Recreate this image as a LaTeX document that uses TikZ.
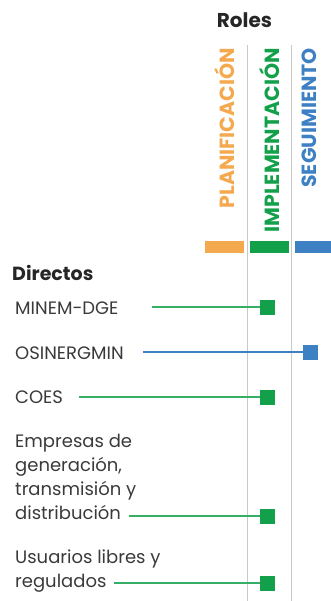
\documentclass[tikz,border=0pt]{standalone}
\usepackage{fontspec}
\setmainfont{Poppins}
\usetikzlibrary{positioning}

\definecolor{plan}{HTML}{F5A94F}
\definecolor{impl}{HTML}{13A04A}
\definecolor{segu}{HTML}{3D80C4}
\definecolor{rulegray}{HTML}{C8C8C8}
\definecolor{txt}{HTML}{3A3A3A}

\begin{document}
\begin{tikzpicture}[x=1pt,y=-1pt]
\tikzstyle{every node}=[inner sep=0pt]
\tikzstyle{actor}=[anchor=base west,align=left,text=txt,font=\fontsize{18}{24}\selectfont]
\tikzstyle{head}=[rotate=90,anchor=east,font=\fontsize{20.5}{20.5}\selectfont\bfseries]
\tikzstyle{bar}=[minimum width=39pt,minimum height=12pt]
\tikzstyle{dot}=[minimum size=15pt]
\tikzstyle{link}=[line width=1.2pt]

\useasboundingbox (0,0) rectangle (331,601);

% header
\node[font=\fontsize{20}{20}\selectfont\bfseries,text=black!85] (roles) at (244.5,20) {Roles};
\node[head,text=plan] (plan) at (225,48) {PLANIFICACIÓN};
\node[head,text=impl] (impl) at (270,48) {IMPLEMENTACIÓN};
\node[head,text=segu] (segu) at (309,48) {SEGUIMIENTO};
\node[bar,fill=plan] (planbar) at (224.5,247) {};
\node[bar,fill=impl] (implbar) at (269.5,247) {};
\node[bar,fill=segu,anchor=west] (segubar) at (295,247) {};

% column rules
\draw[rulegray,line width=1.4pt] (247.5,45) -- (247.5,601);
\draw[rulegray,line width=1.4pt] (291.5,45) -- (291.5,601);

% actors
\node[anchor=base west,font=\fontsize{19}{19}\selectfont\bfseries,text=black!85] (dir) at (12,280) {Directos};
\node[actor] (minem) at (15,314) {MINEM-DGE};
\node[actor] (osi) at (15,359) {OSINERGMIN};
\node[actor] (coes) at (15,403) {COES};
\node[actor] (emp) at (15,519) {Empresas de\\generación,\\transmisión y\\distribución};
\node[actor] (usu) at (15,587) {Usuarios libres y\\regulados};

% roles
\node[dot,fill=impl] (m1) at (267.5,307) {};
\node[dot,fill=segu] (m2) at (310.5,352) {};
\node[dot,fill=impl] (m3) at (267.5,397) {};
\node[dot,fill=impl] (m4) at (267.5,516) {};
\node[dot,fill=impl] (m5) at (267.5,583) {};

\coordinate (s1) at (152,307);
\coordinate (s2) at (143,352);
\coordinate (s3) at (79,397);
\coordinate (s4) at (129,516);
\coordinate (s5) at (114,583);

\draw[link,impl!85] (s1) -- (m1);
\draw[link,segu] (s2) -- (m2);
\draw[link,impl!85] (s3) -- (m3);
\draw[link,impl!85] (s4) -- (m4);
\draw[link,impl!85] (s5) -- (m5);
\end{tikzpicture}
\end{document}
